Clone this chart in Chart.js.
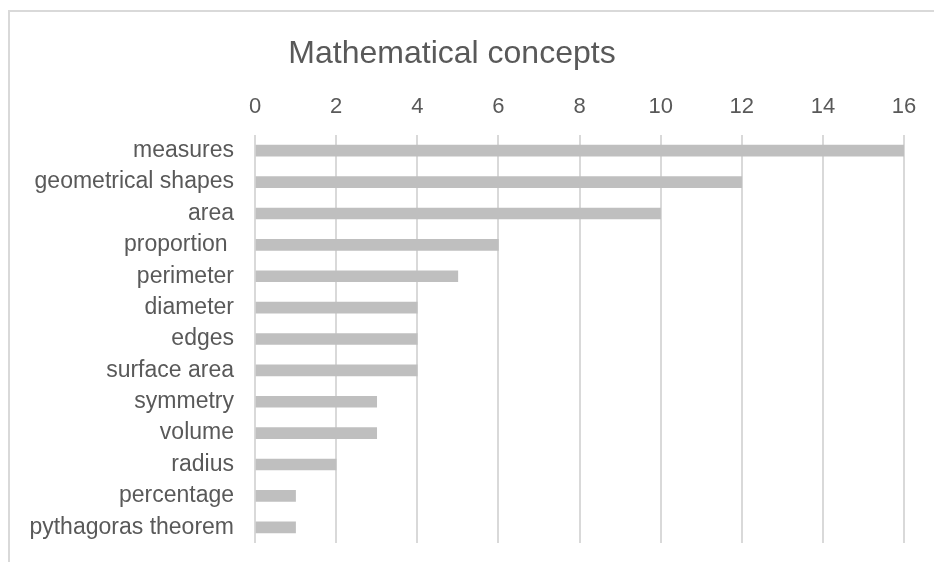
<!DOCTYPE html>
<html lang="en">
<head>
  <meta charset="UTF-8">
  <title>Mathematical concepts</title>
  <script src="https://cdn.jsdelivr.net/npm/chart.js"></script>
  <style>
    body { margin: 0; background: #fff; overflow: hidden; width: 934px; height: 562px; position: relative; }
    #frame { position: absolute; left: 8px; top: 10px; width: 2000px; height: 2000px; border: 2px solid #d9d9d9; box-sizing: border-box; }
    #myChart { position: absolute; left: 0; top: 0; }
  </style>
</head>
<body>

<div id="frame"></div>
<canvas id="myChart" width="934" height="562"></canvas>

<script>
  const concepts = ["measures", "geometrical shapes", "area", "proportion ", "perimeter", "diameter",
    "edges", "surface area", "symmetry", "volume", "radius", "percentage", "pythagoras theorem"];
  const counts = [16, 12, 10, 6, 5, 4, 4, 4, 3, 3, 2, 1, 1];
  const xTicks = [0, 2, 4, 6, 8, 10, 12, 14, 16];

  const textColor = '#595959';
  const fontFamily = '"Liberation Sans", Arial, Helvetica, sans-serif';

  const ctx = document.getElementById('myChart').getContext('2d');

  const myChart = new Chart(ctx, {
    type: 'bar',
    data: {
      labels: concepts,
      datasets: [{
        data: counts,
        backgroundColor: '#bfbfbf',
        borderWidth: 0,
        barThickness: 11
      }]
    },
    options: {
      indexAxis: 'y',
      responsive: false,
      animation: false,
      devicePixelRatio: 1,
      layout: {
        padding: { left: 0, right: 30, top: 0, bottom: 19 }
      },
      plugins: {
        legend: { display: false },
        tooltip: { enabled: false },
        title: {
          display: true,
          text: 'Mathematical concepts',
          color: textColor,
          font: { family: fontFamily, size: 32, weight: 'normal' },
          padding: { top: 35, bottom: 0 }
        }
      },
      scales: {
        x: {
          position: 'top',
          min: 0,
          max: 16,
          afterBuildTicks: scale => {
            scale.ticks = xTicks.map(v => ({ value: v }));
          },
          afterFit: scale => { scale.height = 61.6; },
          border: { display: false },
          grid: { color: '#d9d9d9', lineWidth: 2, drawTicks: false },
          ticks: {
            color: textColor,
            padding: 15,
            font: { family: fontFamily, size: 22 }
          }
        },
        y: {
          // fixed label column; drop the extra room Chart.js keeps for the end labels
          afterFit: scale => {
            scale.width = 255;
            scale.paddingTop = 0;
            scale.paddingBottom = 0;
          },
          border: { display: false },
          grid: { display: false, drawTicks: false },
          ticks: {
            color: textColor,
            padding: 21,
            autoSkip: false,
            font: { family: fontFamily, size: 23 }
          }
        }
      }
    }
  });
</script>

</body>
</html>
